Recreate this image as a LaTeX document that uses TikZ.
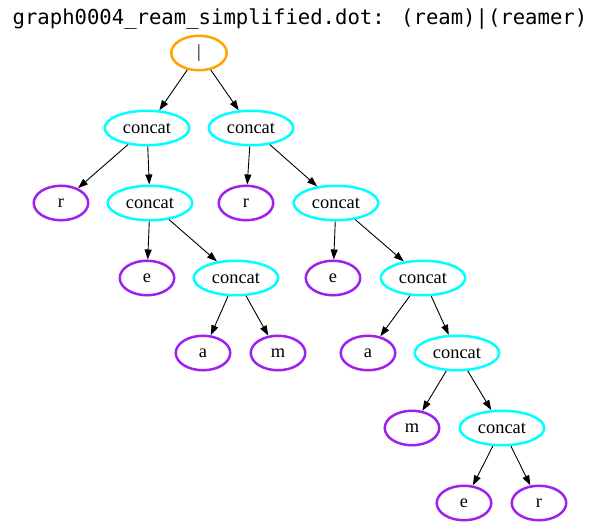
\documentclass[tikz,border=0pt]{standalone}
\usepackage{fontspec}
\setmainfont{Liberation Serif}
\newfontfamily\titlefont{DejaVu Sans Mono}
\usetikzlibrary{shapes.geometric,arrows.meta}
\definecolor{gvorange}{RGB}{255,165,0}
\definecolor{gvcyan}{RGB}{0,255,255}
\definecolor{gvpurple}{RGB}{160,32,240}
\tikzset{
  base/.style={ellipse,inner sep=0pt,line width=2.5pt,minimum height=34.5pt,font=\fontsize{18.4}{20}\selectfont},
  opnode/.style={base,draw=gvorange,minimum width=55.5pt},
  catnode/.style={base,draw=gvcyan,minimum width=84.5pt},
  litnode/.style={base,draw=gvpurple,minimum width=54.5pt},
  edge/.style={draw=black,line width=0.9pt,-{Triangle[length=10pt,width=7pt]}}
}
\begin{document}
\begin{tikzpicture}[x=1pt,y=-1pt]
\useasboundingbox (0,0) rectangle (600,527);
\node (title) at (300,19) {\titlefont\fontsize{20.6}{22}\selectfont graph0004\_ream\_simplified.dot: (ream)|(reamer)};
\node[opnode] (root) at (199,53) {|};
\node[catnode] (c1) at (147,128) {concat};
\node[catnode] (c2) at (251,128) {concat};
\node[litnode] (r1) at (61,203) {r};
\node[catnode] (c3) at (150,203) {concat};
\node[litnode] (r2) at (246,203) {r};
\node[catnode] (c4) at (336,203) {concat};
\node[litnode] (e1) at (147,278) {e};
\node[catnode] (c5) at (236,278) {concat};
\node[litnode] (e2) at (333,278) {e};
\node[catnode] (c6) at (423,278) {concat};
\node[litnode] (a1) at (203,353) {a};
\node[litnode] (m1) at (278,353) {m};
\node[litnode] (a2) at (368,353) {a};
\node[catnode] (c7) at (457,353) {concat};
\node[litnode] (m2) at (412,428) {m};
\node[catnode] (c8) at (502,428) {concat};
\node[litnode] (e3) at (464,503) {e};
\node[litnode] (r3) at (539,503) {r};
\draw[edge] (root) -- (c1);
\draw[edge] (root) -- (c2);
\draw[edge] (c1) -- (r1);
\draw[edge] (c1) -- (c3);
\draw[edge] (c2) -- (r2);
\draw[edge] (c2) -- (c4);
\draw[edge] (c3) -- (e1);
\draw[edge] (c3) -- (c5);
\draw[edge] (c4) -- (e2);
\draw[edge] (c4) -- (c6);
\draw[edge] (c5) -- (a1);
\draw[edge] (c5) -- (m1);
\draw[edge] (c6) -- (a2);
\draw[edge] (c6) -- (c7);
\draw[edge] (c7) -- (m2);
\draw[edge] (c7) -- (c8);
\draw[edge] (c8) -- (e3);
\draw[edge] (c8) -- (r3);
\end{tikzpicture}
\end{document}
